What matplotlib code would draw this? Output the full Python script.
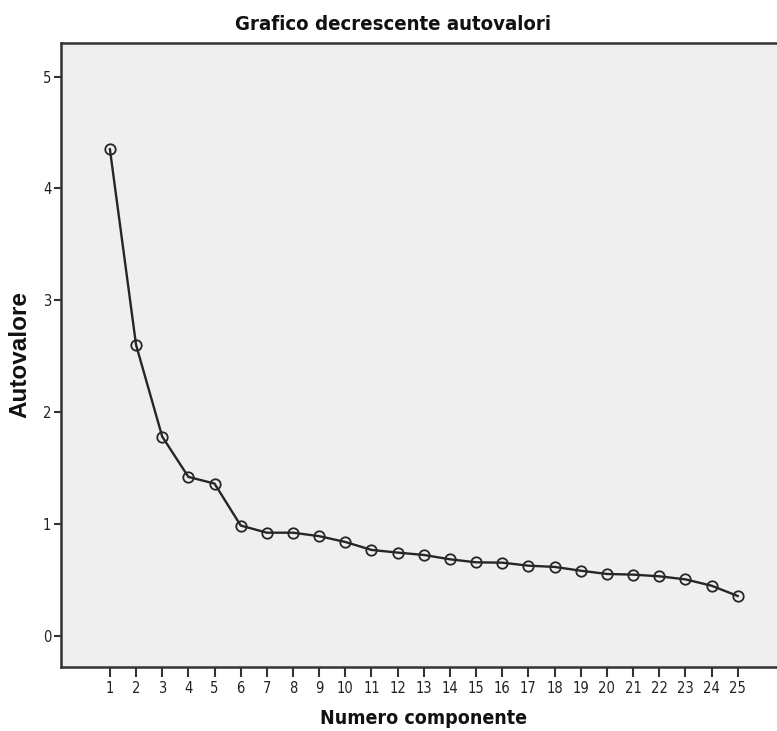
import numpy as np
import matplotlib as mpl
import matplotlib.pyplot as plt

mpl.rcParams['font.family'] = ['DejaVu Sans']
mpl.rcParams['font.stretch'] = 'condensed'

componenti = list(range(1, 26))
autovalori = [4.35, 2.60, 1.78, 1.42, 1.36, 0.985, 0.921, 0.921, 0.89, 0.838,
              0.767, 0.743, 0.722, 0.683, 0.656, 0.653, 0.626, 0.615, 0.581, 0.552,
              0.546, 0.531, 0.504, 0.447, 0.355]
y_ticks = [0, 1, 2, 3, 4, 5]

fig = plt.figure(figsize=(7.77, 7.31), dpi=100)
ax = fig.add_axes([61 / 777, 1 - 667 / 731, 1 - 61 / 777 + 0.01, (667 - 43) / 731])
ax.set_facecolor('#efefef')

ax.plot(componenti, autovalori, color='#262626', linewidth=1.7, marker='o', markersize=7.5,
        markerfacecolor='none', markeredgecolor='#262626', markeredgewidth=1.3)

ax.set_xlim(-0.87, 26.8)
ax.set_ylim(-0.28, 5.30)
ax.set_xticks(componenti)
ax.set_xticklabels([str(c) for c in componenti], fontsize=10.5, color='#222222')
ax.set_yticks(y_ticks)
ax.set_yticklabels([str(v) for v in y_ticks], fontsize=10.5, color='#222222')
ax.tick_params(axis='x', length=7, width=1.5, color='#333333', pad=3)
ax.tick_params(axis='y', length=5, width=1.5, color='#333333', pad=2)

for side in ['left', 'top', 'bottom']:
    ax.spines[side].set_linewidth(1.8)
    ax.spines[side].set_color('#333333')
ax.spines['right'].set_visible(False)

fig.text(393 / 777, 1 - 24 / 731, 'Grafico decrescente autovalori', ha='center', va='center',
         fontsize=14.6, fontweight='bold', color='#111111', fontstretch='condensed')
fig.text(423 / 777, 1 - 719 / 731, 'Numero componente', ha='center', va='center',
         fontsize=14, fontweight='bold', color='#111111', fontstretch='condensed')
fig.text(20 / 777, 1 - 354 / 731, 'Autovalore', ha='center', va='center', rotation='vertical',
         fontsize=17.5, fontweight='bold', color='#111111', family=['Liberation Sans', 'DejaVu Sans'],
         fontstretch='normal')

plt.savefig('out.png', dpi=100)
